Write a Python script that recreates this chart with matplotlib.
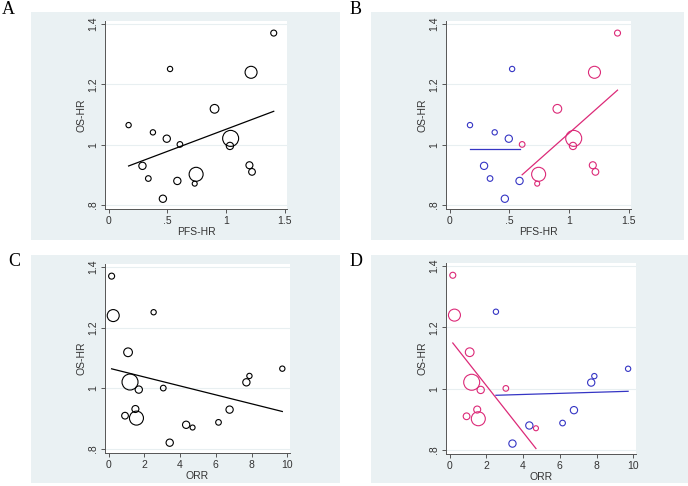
import numpy as np
import matplotlib.pyplot as plt
from matplotlib.patches import Rectangle

# study-level data
pfs_hr = [1.407, 0.524, 1.214, 0.903, 0.171, 0.378, 0.496, 0.608, 1.040,
          1.034, 0.289, 0.339, 0.586, 0.746, 0.734, 0.463, 1.200, 1.222]
orr = [0.17, 2.52, 0.26, 1.09, 9.72, 7.88, 7.71, 3.06, 1.20,
       1.69, 6.77, 6.15, 4.34, 1.56, 4.70, 3.42, 1.50, 0.92]
os_hr = [1.370, 1.251, 1.240, 1.119, 1.065, 1.041, 1.020, 1.001, 1.021,
         0.996, 0.930, 0.888, 0.880, 0.902, 0.871, 0.821, 0.932, 0.910]
weight = [36, 28, 144, 76, 28, 28, 53, 32, 256,
          53, 53, 32, 53, 196, 25, 53, 49, 45]
group = ['high', 'low', 'high', 'high', 'low', 'low', 'low', 'high', 'high',
         'high', 'low', 'low', 'low', 'high', 'high', 'low', 'high', 'high']

# meta-regression lines (intercept, slope)
fit_a = (0.9045, 0.1466)
fit_b = {'low': (0.986, 0.0), 'high': (0.687, 0.351)}
fit_c = (1.067, -0.01473)
fit_d = {'low': (0.974, 0.0018), 'high': (1.162, -0.076)}

pfs_ticks = [0, 0.5, 1, 1.5]
pfs_labels = ['0', '.5', '1', '1.5']
orr_ticks = [0, 2, 4, 6, 8, 10]
orr_labels = ['0', '2', '4', '6', '8', '10']
os_ticks = [0.8, 1.0, 1.2, 1.4]
os_labels = ['.8', '1', '1.2', '1.4']

pink = '#dc2a78'
blue = '#3535c4'
colors = {'high': pink, 'low': blue}
bg = '#eaf1f3'
txt = '#333333'
W, H = 688, 486

plt.rcParams['font.family'] = ['Liberation Sans', 'DejaVu Sans']

x = np.array(pfs_hr)
o = np.array(orr)
y = np.array(os_hr)
w = np.array(weight)
g = np.array(group)

fig = plt.figure(figsize=(W / 100, H / 100), dpi=100)


def px_rect(x0, y0, x1, y1):
    return [x0 / W, 1 - y1 / H, (x1 - x0) / W, (y1 - y0) / H]


def panel(letter, bg_box, ax_box, lx, ly):
    r = px_rect(*bg_box)
    fig.patches.append(Rectangle((r[0], r[1]), r[2], r[3], transform=fig.transFigure,
                                 facecolor=bg, edgecolor='none', zorder=-5))
    fig.text(lx / W, 1 - ly / H, letter, family='Liberation Serif', fontsize=13,
             ha='center', va='center')
    ax = fig.add_axes(px_rect(*ax_box))
    ax.set_facecolor('white')
    for s in ['top', 'right']:
        ax.spines[s].set_visible(False)
    for s in ['left', 'bottom']:
        ax.spines[s].set_color('#555555')
        ax.spines[s].set_linewidth(0.7)
    ax.tick_params(length=3, width=0.7, color='#555555', labelsize=7.5, pad=2,
                   labelcolor=txt)
    ax.set_ylim(0.787, 1.41)
    ax.set_yticks(os_ticks)
    ax.set_yticklabels(os_labels, rotation=90, va='center')
    ax.yaxis.grid(True, color='#e8eff1', lw=0.8)
    ax.set_axisbelow(True)
    ax.set_ylabel('OS-HR', fontsize=7.5, labelpad=1, color=txt)
    return ax


def pfs_axis(ax):
    ax.set_xlim(-0.03, 1.52)
    ax.set_xticks(pfs_ticks)
    ax.set_xticklabels(pfs_labels)
    ax.set_xlabel('PFS-HR', fontsize=7.5, labelpad=1, color=txt)


def orr_axis(ax):
    ax.set_xlim(-0.2, 10.15)
    ax.set_xticks(orr_ticks)
    ax.set_xticklabels(orr_labels)
    ax.set_xlabel('ORR', fontsize=7.5, labelpad=1, color=txt)


def line(ax, xs, fit, color):
    xx = np.array([xs.min(), xs.max()])
    ax.plot(xx, fit[0] + fit[1] * xx, color=color, lw=0.9)


sz = w * 0.518

# A
ax = panel('A', (31, 12, 340, 240), (105, 21, 287, 209), 8, 9)
pfs_axis(ax)
ax.scatter(x, y, s=sz, facecolors='none', edgecolors='black', linewidths=0.8)
line(ax, x, fit_a, 'black')

# B
ax = panel('B', (371, 12, 684, 240), (446, 21, 631, 209), 356, 9)
pfs_axis(ax)
for k in ['low', 'high']:
    m = g == k
    ax.scatter(x[m], y[m], s=sz[m], facecolors='none', edgecolors=colors[k], linewidths=0.8)
    line(ax, x[m], fit_b[k], colors[k])

# C
ax = panel('C', (31, 255, 340, 483), (105, 264, 290, 453), 14, 261)
orr_axis(ax)
ax.scatter(o, y, s=sz, facecolors='none', edgecolors='black', linewidths=0.8)
line(ax, o, fit_c, 'black')

# D
ax = panel('D', (371, 255, 688, 483), (446, 263, 636, 454), 356, 261)
orr_axis(ax)
for k in ['low', 'high']:
    m = g == k
    ax.scatter(o[m], y[m], s=sz[m], facecolors='none', edgecolors=colors[k], linewidths=0.8)
    line(ax, o[m], fit_d[k], colors[k])

fig.savefig('out.png', dpi=100)
